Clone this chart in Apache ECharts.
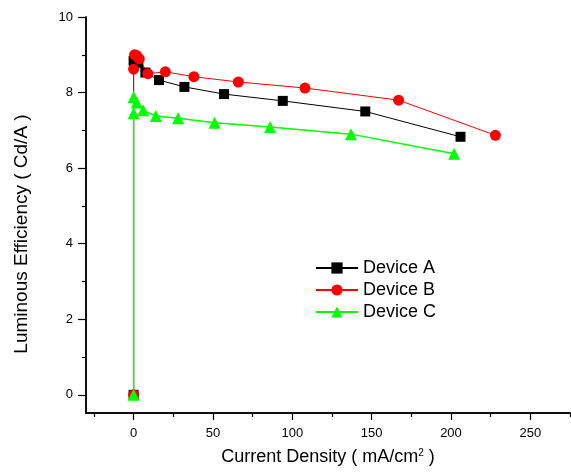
<!DOCTYPE html>
<html lang="en">
<head>
  <meta charset="UTF-8">
  <title>Luminous Efficiency vs Current Density</title>
  <script src="https://cdn.jsdelivr.net/npm/echarts@6/dist/echarts.min.js"></script>
  <style>
    * { margin: 0; padding: 0; box-sizing: border-box; }
    body { background: #fff; }
    #chart { width: 571px; height: 475px; }
  </style>
</head>
<body>
  <div id="chart"></div>
  <script>
    // [current density mA/cm2, luminous efficiency Cd/A]
    const deviceA = [[0, 0], [0, 8.84], [3, 8.78], [7.4, 8.53], [16, 8.33], [32, 8.15], [57, 7.96], [94, 7.78], [146, 7.50], [206, 6.83]];
    const deviceB = [[0, 0], [0, 8.62], [0.6, 9.0], [2, 8.98], [3.6, 8.89], [9, 8.5], [20, 8.55], [38, 8.42], [66, 8.28], [108, 8.12], [167, 7.80], [228, 6.87]];
    const deviceC = [[0, 0], [0, 7.45], [0, 7.88], [2, 7.74], [6, 7.53], [14, 7.38], [28, 7.32], [51, 7.20], [86, 7.09], [137, 6.90], [202, 6.38]];
    const seriesNames = ['Device A', 'Device B', 'Device C'];

    const xMajor = [0, 50, 100, 150, 200, 250];
    const xMinor = [-25, 25, 75, 125, 175, 225, 275];
    const yMajor = [0, 2, 4, 6, 8, 10];
    const yMinor = [1, 3, 5, 7, 9];

    const font = '"Liberation Sans", Arial, sans-serif';
    const myChart = echarts.init(document.getElementById('chart'));

    function mkSeries(name, data, color, symbol, size, width) {
      return {
        name: name,
        type: 'line',
        data: data,
        symbol: symbol,
        symbolSize: size,
        showAllSymbol: true,
        itemStyle: { color: color },
        lineStyle: { color: color, width: width },
        emphasis: { disabled: true }
      };
    }

    const tickStyle = { color: '#000', width: 1.2 };
    const axisLineStyle = { onZero: false, lineStyle: { color: '#000', width: 1.5 } };

    const option = {
      animation: false,
      textStyle: { fontFamily: font },
      grid: { left: 86, right: 1, top: 17, bottom: 62 },
      legend: {
        orient: 'vertical',
        left: 315,
        top: 259,
        padding: 0,
        itemWidth: 42,
        itemHeight: 14,
        itemGap: 4,
        data: seriesNames,
        textStyle: { fontSize: 18, color: '#000', fontFamily: font }
      },
      xAxis: [{
        type: 'value',
        min: -30,
        max: 275,
        name: 'Current Density ( mA/cm{sup|2} )',
        nameLocation: 'middle',
        nameGap: 35,
        nameTextStyle: {
          fontSize: 18, color: '#000', fontFamily: font,
          rich: { sup: { fontSize: 10, verticalAlign: 'top', padding: [0, 0, 8, 0], color: '#000' } }
        },
        axisLine: axisLineStyle,
        axisTick: { length: 7, lineStyle: tickStyle, customValues: xMajor },
        axisLabel: { color: '#000', fontSize: 13, margin: 14, customValues: xMajor },
        splitLine: { show: false }
      }, {
        // minor ticks
        type: 'value',
        position: 'bottom',
        min: -30,
        max: 275,
        axisLine: axisLineStyle,
        axisTick: { show: true, length: 4, lineStyle: tickStyle, customValues: xMinor },
        axisLabel: { show: false },
        splitLine: { show: false }
      }],
      yAxis: [{
        type: 'value',
        min: -0.48,
        max: 10,
        name: 'Luminous Efficiency ( Cd/A )',
        nameLocation: 'middle',
        nameGap: 55,
        nameTextStyle: { fontSize: 19, color: '#000', fontFamily: font, padding: [0, 38, 0, 0] },
        axisLine: axisLineStyle,
        axisTick: { length: 8, lineStyle: tickStyle, customValues: yMajor },
        axisLabel: { color: '#000', fontSize: 13, margin: 13, customValues: yMajor },
        splitLine: { show: false }
      }, {
        // minor ticks
        type: 'value',
        position: 'left',
        min: -0.48,
        max: 10,
        axisLine: axisLineStyle,
        axisTick: { show: true, length: 4, lineStyle: tickStyle, customValues: yMinor },
        axisLabel: { show: false },
        splitLine: { show: false }
      }],
      series: [
        mkSeries('Device A', deviceA, '#000000', 'rect', 10, 1),
        mkSeries('Device B', deviceB, '#ff0000', 'circle', 11, 1),
        mkSeries('Device C', deviceC, '#00ff00', 'triangle', 12, 1.5)
      ]
    };

    myChart.setOption(option);
  </script>
</body>
</html>
